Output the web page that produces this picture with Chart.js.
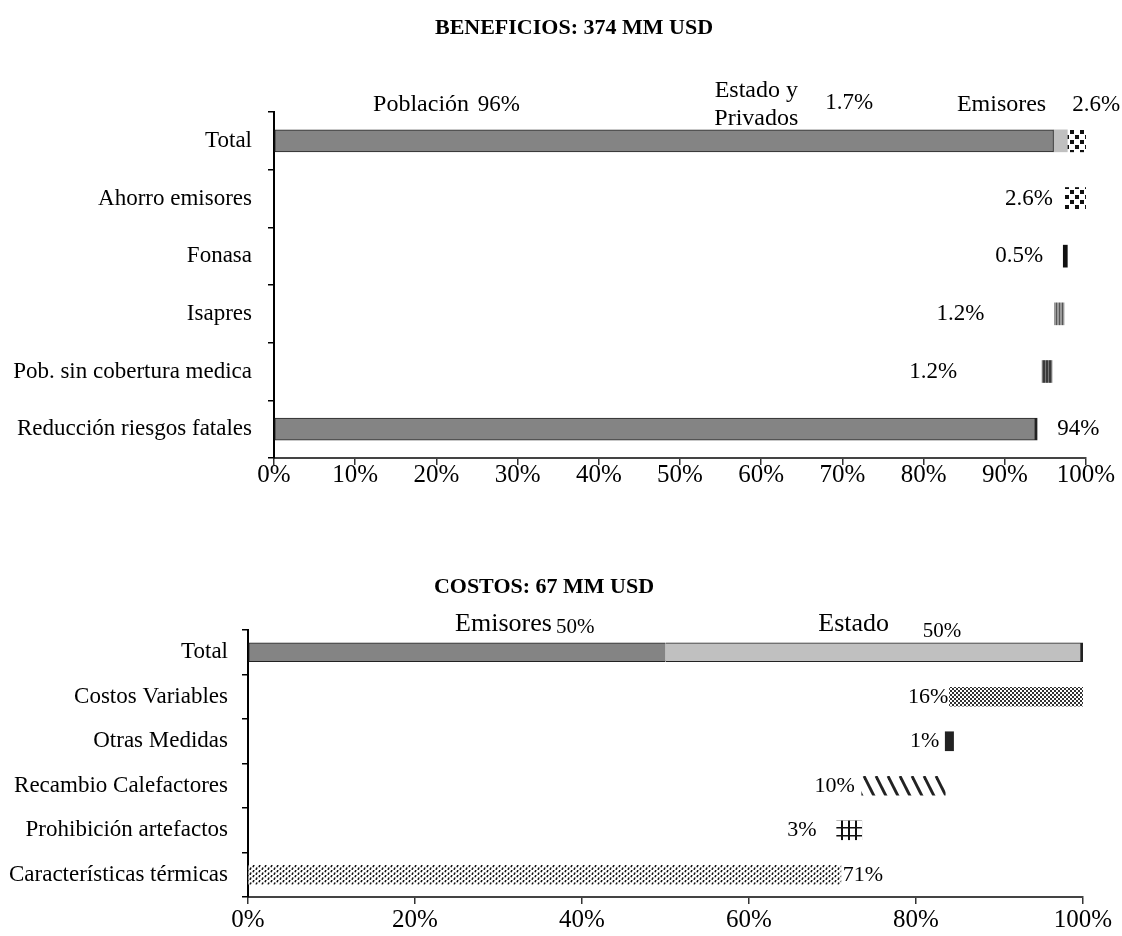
<!DOCTYPE html>
<html>
<head>
<meta charset="utf-8">
<script src="https://cdn.jsdelivr.net/npm/chart.js@4"></script>
<style>
  html, body { margin: 0; padding: 0; background: #fff; }
  body { width: 1122px; height: 936px; position: relative; overflow: hidden; }
  canvas { position: absolute; left: 0; }
  #cBen { top: 0; }
  #cCos { top: 560px; }
</style>
</head>
<body>
<canvas id="cBen" width="1122" height="500"></canvas>
<canvas id="cCos" width="1122" height="376"></canvas>
<script>
// ---------------- Beneficios (374 MM USD) ----------------
const beneficioCategorias = ['Total', 'Ahorro emisores', 'Fonasa', 'Isapres',
  'Pob. sin cobertura medica', 'Reducción riesgos fatales'];
const beneficioInicio = [null, 97.4, 97.2, 96.1, 94.6, 0];   // start of each bar (%)
const beneficioValor  = [null, 2.6, 0.5, 1.2, 1.2, 94];      // share of each bar (%)
const beneficioTotalNombres = ['Población', 'Estado y\nPrivados', 'Emisores'];
const beneficioTotalInicio  = [0, 96, 97.4];
const beneficioTotalValor   = [96, 1.7, 2.6];
const beneficioTicks = [0, 10, 20, 30, 40, 50, 60, 70, 80, 90, 100];

// ---------------- Costos (67 MM USD) ----------------
const costoCategorias = ['Total', 'Costos Variables', 'Otras Medidas',
  'Recambio Calefactores', 'Prohibición artefactos', 'Características térmicas'];
const costoInicio = [null, 84, 83.5, 73.5, 70.5, 0];
const costoValor  = [null, 16, 1, 10, 3, 71];
const costoTotalNombres = ['Emisores', 'Estado'];
const costoTotalInicio  = [0, 50];
const costoTotalValor   = [50, 50];
const costoTicks = [0, 20, 40, 60, 80, 100];

const SERIF = "'Liberation Serif', 'Times New Roman', serif";

// ---------- fill patterns ----------
function tile(w, h, paint) {
  const c = document.createElement('canvas');
  c.width = w; c.height = h;
  const g = c.getContext('2d');
  paint(g, w, h);
  return g.createPattern(c, 'repeat');
}
const grisOscuro = '#848484';
const grisClaro = '#c0c0c0';
const cuadros = tile(10, 10, (g) => {
  g.fillStyle = '#fff'; g.fillRect(0, 0, 10, 10);
  g.fillStyle = '#111'; g.fillRect(0, 0, 4, 4); g.fillRect(5, 5, 4, 4);
});
const rayasGris = tile(3, 4, (g) => {
  g.fillStyle = '#9a9a9a'; g.fillRect(0, 0, 3, 4);
  g.fillStyle = '#555'; g.fillRect(0, 0, 1, 4);
});
const rayasOscuras = tile(3, 4, (g) => {
  g.fillStyle = '#3a3a3a'; g.fillRect(0, 0, 3, 4);
  g.fillStyle = '#777'; g.fillRect(1, 0, 1, 4);
});
const cuadrosFinos = tile(4, 4, (g) => {
  g.fillStyle = '#fff'; g.fillRect(0, 0, 4, 4);
  g.fillStyle = '#333'; g.fillRect(0, 0, 2, 2); g.fillRect(2, 2, 2, 2);
});
const diagonales = tile(12, 24, (g) => {
  g.fillStyle = '#fff'; g.fillRect(0, 0, 12, 24);
  g.strokeStyle = '#222'; g.lineWidth = 2.8;
  [-12, 0, 12].forEach(dx => {
    g.beginPath(); g.moveTo(dx, 0); g.lineTo(dx + 12, 24); g.stroke();
  });
});
const almohadilla = tile(7, 8, (g) => {
  g.fillStyle = '#fff'; g.fillRect(0, 0, 7, 8);
  g.fillStyle = '#111'; g.fillRect(1, 0, 2, 8); g.fillRect(0, 3, 7, 1.5);
});
const punteado = tile(6, 5, (g) => {
  g.fillStyle = '#fff'; g.fillRect(0, 0, 6, 5);
  g.strokeStyle = '#111'; g.lineWidth = 1.6;
  g.beginPath(); g.moveTo(2, 0); g.lineTo(1, 2.3); g.stroke();
  g.beginPath(); g.moveTo(5, 2.5); g.lineTo(4, 4.8); g.stroke();
});

// ---------- text drawn over the bars ----------
const rotulos = {
  id: 'rotulos',
  afterDatasetsDraw(chart, args, o) {
    const ctx = chart.ctx, xs = chart.scales.x;
    ctx.save();
    ctx.fillStyle = '#000';
    ctx.textBaseline = 'middle';

    ctx.font = `bold ${o.tituloTam}px ${SERIF}`;
    ctx.textAlign = 'center';
    ctx.fillText(o.titulo, o.tituloX, o.tituloY);

    // value of each single bar
    const meta = chart.getDatasetMeta(chart.data.datasets.length - 1);
    ctx.font = `${o.valorTam}px ${SERIF}`;
    meta.data.forEach((bar, i) => {
      const v = o.valores[i];
      if (v == null) return;
      const txt = v + '%';
      if (o.lados[i] === 'right') {
        ctx.textAlign = 'left';
        ctx.fillText(txt, Math.max(bar.x, bar.base) + o.huecos[i], bar.y);
      } else {
        ctx.textAlign = 'right';
        ctx.fillText(txt, Math.min(bar.x, bar.base) - o.huecos[i], bar.y);
      }
    });

    // names and shares of the Total segments
    o.nombres.forEach((n, j) => {
      const lineas = n.split('\n');
      ctx.font = `${o.nombreTam}px ${SERIF}`;
      ctx.textAlign = lineas.length > 1 ? 'center' : 'left';
      const y0 = o.cabeceraY - (lineas.length - 1) * o.interlinea / 2;
      lineas.forEach((l, k) => ctx.fillText(l, xs.getPixelForValue(o.nombreEn[j]), y0 + k * o.interlinea));
      ctx.font = `${o.totalTam}px ${SERIF}`;
      ctx.textAlign = 'left';
      ctx.fillText(o.totales[j] + '%', xs.getPixelForValue(o.totalEn[j]), o.cabeceraY + o.totalDy[j]);
    });
    ctx.restore();
  }
};

function ejes(ticksLista, marcaTam, catTam, altoX, anchoY, padCat, padMarca) {
  return {
    x: {
      type: 'linear', min: 0, max: 100,
      afterBuildTicks: s => { s.ticks = ticksLista.map(v => ({ value: v })); },
      afterFit: s => { s.height = altoX; },
      grid: { drawOnChartArea: false, drawTicks: true, tickLength: 7, color: '#333', lineWidth: 1.5 },
      border: { display: true, color: '#444', width: 2 },
      ticks: { color: '#000', font: { family: SERIF, size: marcaTam }, padding: padMarca,
               maxRotation: 0, autoSkip: false, callback: v => v + '%' }
    },
    y: {
      type: 'category',
      afterFit: s => { s.width = anchoY; },
      grid: { offset: true, drawOnChartArea: false, drawTicks: true, tickLength: 6, color: '#000', lineWidth: 1.5 },
      border: { display: true, color: '#000', width: 2 },
      ticks: { color: '#000', font: { family: SERIF, size: catTam }, padding: padCat }
    }
  };
}

function barras(categorias, inicio, valor, totalInicio, totalValor, estTotal, estFilas, bordes, grosor) {
  const base = { grouped: false, barThickness: grosor, borderSkipped: false, borderColor: '#222' };
  const totales = totalInicio.map((s, j) => Object.assign({}, base, {
    data: categorias.map((_, i) => i === 0 ? [s, s + totalValor[j]] : null),
    backgroundColor: estTotal[j].fill,
    borderWidth: estTotal[j].borde
  }));
  const filas = Object.assign({}, base, {
    data: categorias.map((_, i) => valor[i] == null ? null : [inicio[i], inicio[i] + valor[i]]),
    backgroundColor: estFilas,
    borderWidth: bordes
  });
  return totales.concat([filas]);
}

const comunes = {
  indexAxis: 'y', responsive: false, animation: false,
  plugins: { legend: { display: false }, tooltip: { enabled: false } }
};

// ---- Beneficios chart ----
new Chart(document.getElementById('cBen'), {
  type: 'bar',
  data: {
    labels: beneficioCategorias,
    datasets: barras(beneficioCategorias, beneficioInicio, beneficioValor,
      beneficioTotalInicio, beneficioTotalValor,
      [{ fill: grisOscuro, borde: 1 }, { fill: grisClaro, borde: 0 }, { fill: cuadros, borde: 0 }],
      [null, cuadros, '#111', rayasGris, rayasOscuras, grisOscuro],
      [0, 0, 0, 0, 0, { top: 1, bottom: 1, left: 1, right: 3 }], 22)
  },
  options: Object.assign({}, comunes, {
    layout: { padding: { left: 0, right: 36, top: 112, bottom: 0 } },
    scales: ejes(beneficioTicks, 25, 23, 42, 274, 16, -5),
    plugins: Object.assign({}, comunes.plugins, {
      rotulos: {
        titulo: 'BENEFICIOS: 374 MM USD', tituloTam: 22, tituloX: 574, tituloY: 28,
        valores: beneficioValor, valorTam: 23,
        lados: [null, 'left', 'left', 'left', 'left', 'right'],
        huecos: [0, 12, 20, 70, 85, 20],
        nombres: beneficioTotalNombres, nombreTam: 24, interlinea: 28,
        nombreEn: [12.2, 59.4, 84.1],
        totales: beneficioTotalValor, totalTam: 23,
        totalEn: [25.1, 67.9, 98.3], totalDy: [0, -2, 0],
        cabeceraY: 105
      }
    })
  }),
  plugins: [rotulos]
});

// ---- Costos chart ----
new Chart(document.getElementById('cCos'), {
  type: 'bar',
  data: {
    labels: costoCategorias,
    datasets: barras(costoCategorias, costoInicio, costoValor,
      costoTotalInicio, costoTotalValor,
      [{ fill: grisOscuro, borde: { top: 1, bottom: 1, left: 1, right: 0 } },
       { fill: grisClaro, borde: { top: 1, bottom: 1, left: 0, right: 3 } }],
      [null, cuadrosFinos, '#222', diagonales, almohadilla, punteado],
      0, 19)
  },
  options: Object.assign({}, comunes, {
    layout: { padding: { left: 0, right: 39, top: 70, bottom: 0 } },
    scales: ejes(costoTicks, 25, 23, 39, 248, 14, 1),
    plugins: Object.assign({}, comunes.plugins, {
      rotulos: {
        titulo: 'COSTOS: 67 MM USD', tituloTam: 22, tituloX: 544, tituloY: 27,
        valores: costoValor, valorTam: 22,
        lados: [null, 'left', 'left', 'left', 'left', 'right'],
        huecos: [0, 1, 6, 7, 20, 2],
        nombres: costoTotalNombres, nombreTam: 26, interlinea: 26,
        nombreEn: [24.8, 68.3],
        totales: costoTotalValor, totalTam: 21,
        totalEn: [36.9, 80.8], totalDy: [3, 7],
        cabeceraY: 64
      }
    })
  }),
  plugins: [rotulos]
});
</script>
</body>
</html>
